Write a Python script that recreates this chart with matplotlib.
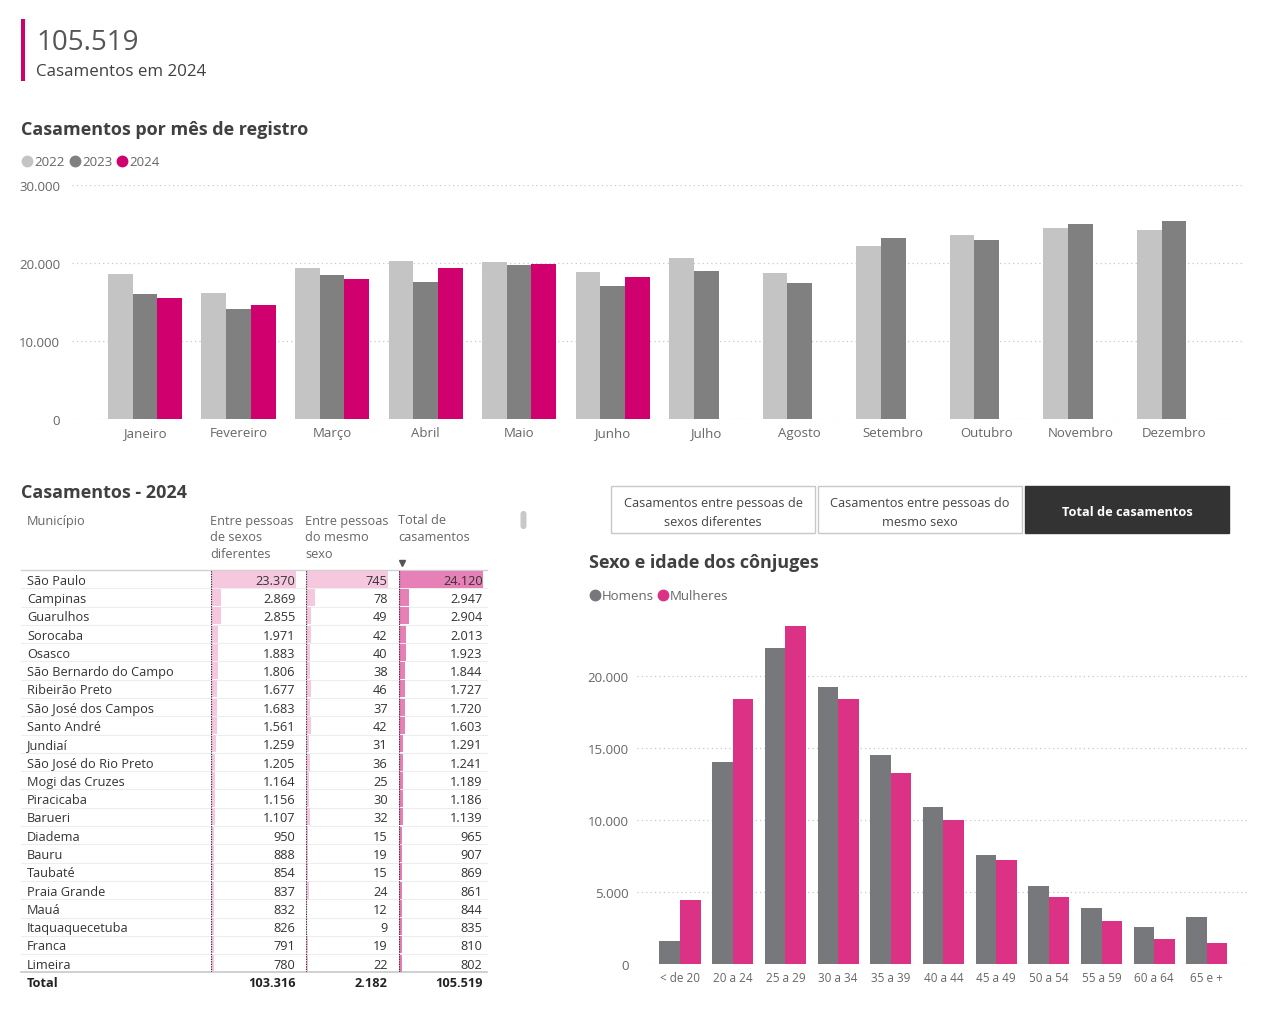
import matplotlib
matplotlib.use("Agg")
import matplotlib.pyplot as plt
from matplotlib.patches import Rectangle, FancyBboxPatch
import numpy as np

W, H = 1268, 1012
plt.rcParams['font.family'] = ['Open Sans', 'DejaVu Sans']

# ---------------- data ----------------
kpi_valor = 105519
kpi_texto = 'Casamentos em 2024'

meses = ['Janeiro', 'Fevereiro', 'Março', 'Abril', 'Maio', 'Junho',
         'Julho', 'Agosto', 'Setembro', 'Outubro', 'Novembro', 'Dezembro']
anos = ['2022', '2023', '2024']
v2022 = [18600, 16200, 19300, 20200, 20100, 18800, 20650, 18700, 22200, 23650, 24450, 24250]
v2023 = [16000, 14100, 18500, 17600, 19800, 17000, 19000, 17500, 23200, 22950, 25000, 25400]
v2024 = [15550, 14650, 17950, 19350, 19900, 18250, np.nan, np.nan, np.nan, np.nan, np.nan, np.nan]
yticks_mes = [0, 10000, 20000, 30000]

municipios = ['São Paulo', 'Campinas', 'Guarulhos', 'Sorocaba', 'Osasco',
              'São Bernardo do Campo', 'Ribeirão Preto', 'São José dos Campos',
              'Santo André', 'Jundiaí', 'São José do Rio Preto', 'Mogi das Cruzes',
              'Piracicaba', 'Barueri', 'Diadema', 'Bauru', 'Taubaté', 'Praia Grande',
              'Mauá', 'Itaquaquecetuba', 'Franca', 'Limeira']
sexos_dif = [23370, 2869, 2855, 1971, 1883, 1806, 1677, 1683, 1561, 1259, 1205, 1164,
             1156, 1107, 950, 888, 854, 837, 832, 826, 791, 780]
mesmo_sexo = [745, 78, 49, 42, 40, 38, 46, 37, 42, 31, 36, 25, 30, 32, 15, 19, 15, 24,
              12, 9, 19, 22]
total_cas = [24120, 2947, 2904, 2013, 1923, 1844, 1727, 1720, 1603, 1291, 1241, 1189,
             1186, 1139, 965, 907, 869, 861, 844, 835, 810, 802]
totais = [103316, 2182, 105519]
cab_colunas = [['Entre pessoas', 'de sexos', 'diferentes'],
               ['Entre pessoas', 'do mesmo', 'sexo'],
               ['Total de', 'casamentos']]

botoes = ['Casamentos entre pessoas de\nsexos diferentes',
          'Casamentos entre pessoas do\nmesmo sexo',
          'Total de casamentos']

faixas = ['< de 20', '20 a 24', '25 a 29', '30 a 34', '35 a 39', '40 a 44',
          '45 a 49', '50 a 54', '55 a 59', '60 a 64', '65 e +']
homens = [1620, 13990, 21970, 19260, 14520, 10870, 7540, 5430, 3860, 2570, 3260]
mulheres = [4440, 18380, 23490, 18430, 13250, 10030, 7210, 4650, 2980, 1730, 1460]
yticks_idade = [0, 5000, 10000, 15000, 20000]

# ---------------- style ----------------
C22, C23, C24 = '#C4C4C4', '#808080', '#D0006F'
C_HOM, C_MUL = '#77787B', '#DB3285'
ROSA_CLARO, ROSA_ESC = '#F5C8E0', '#E680B6'
TXT, TXT2 = '#404040', '#666666'


def fmt(v):
    return f'{int(v):,}'.replace(',', '.')


def rect(l, t, r, b):
    return [l / W, 1 - b / H, (r - l) / W, (b - t) / H]


fig = plt.figure(figsize=(W / 100, H / 100), dpi=100)
fig.patch.set_facecolor('white')

bg = fig.add_axes([0, 0, 1, 1])
bg.set_xlim(0, W)
bg.set_ylim(H, 0)
bg.axis('off')

# KPI card
bg.add_patch(Rectangle((21, 20), 3.5, 62, color=C24, lw=0))
bg.text(36, 43, fmt(kpi_valor), fontsize=20, color='#555555', va='center', ha='left')
bg.text(36, 72, kpi_texto, fontsize=12.2, color=TXT, va='center', ha='left')

# ---------------- month chart ----------------
bg.text(21, 130, 'Casamentos por mês de registro', fontsize=13, fontweight='bold',
        color=TXT, va='center')
leg_x = [27, 75, 122]
for lx, ano, c in zip(leg_x, anos, [C22, C23, C24]):
    bg.plot(lx, 162, 'o', ms=7.5, color=c)
    bg.text(lx + 7, 162, ano, fontsize=9.5, color=TXT2, va='center')

ax1 = fig.add_axes(rect(72, 186, 1245, 420))
ax1.set_facecolor('none')
x = np.arange(len(meses))
w = 0.264
ax1.bar(x - w, v2022, w, color=C22, zorder=3)
ax1.bar(x, v2023, w, color=C23, zorder=3)
ax1.bar(x + w, v2024, w, color=C24, zorder=3)
ax1.set_xlim(-0.78, 11.76)
ax1.set_ylim(0, 30000)
ax1.set_yticks(yticks_mes)
ax1.set_yticklabels([fmt(v) for v in yticks_mes])
ax1.set_xticks(x)
ax1.set_xticklabels(meses)
ax1.tick_params(length=0, labelsize=9.5, labelcolor=TXT2)
ax1.tick_params(axis='y', pad=8.5)
ax1.tick_params(axis='x', pad=5)
ax1.yaxis.grid(True, linestyle=(0, (1, 2.5)), color='#C8C8C8', lw=0.9)
for s in ax1.spines.values():
    s.set_visible(False)

# ---------------- table ----------------
bg.text(21, 493, 'Casamentos - 2024', fontsize=13, fontweight='bold', color=TXT, va='center')
bg.text(27, 521, 'Município', fontsize=9.2, color=TXT2, va='center')
col_l = [211, 306, 399]
col_r = [296, 388, 483]
for cl, linhas in zip([210, 305, 398], cab_colunas):
    for k, ln in enumerate(linhas):
        bg.text(cl, 521 + k * 16.5, ln, fontsize=9.2, color=TXT2, va='center')
bg.plot(402, 564, marker='v', ms=4.5, color='#555555')
bg.add_patch(FancyBboxPatch((520.5, 512), 6, 18, boxstyle='round,pad=0,rounding_size=3',
                            color='#C8C8C8', lw=0))

n = len(municipios)
top, pitch = 571, 18.29
bottom = top + n * pitch
bg.plot([21, 487], [top, top], color='#D0D0D0', lw=1)
for k in range(1, n):
    bg.plot([21, 487], [top + k * pitch] * 2, color='#EDEDED', lw=0.8)
bg.plot([21, 487], [bottom, bottom], color='#C8C8C8', lw=1.2)

for vals, l, r, c in zip([sexos_dif, mesmo_sexo, total_cas], col_l, col_r,
                         [ROSA_CLARO, ROSA_CLARO, ROSA_ESC]):
    axc = fig.add_axes(rect(l, top, r, bottom))
    axc.set_facecolor('none')
    axc.barh(np.arange(n), vals, height=0.93, color=c, lw=0)
    axc.set_xlim(0, max(vals))
    axc.set_ylim(n - 0.5, -0.5)
    axc.axvline(0, color='#333333', lw=0.9, linestyle=(0, (1, 1)), zorder=5)
    axc.axis('off')

# text layer above the data bars
fg = fig.add_axes([0, 0, 1, 1])
fg.set_xlim(0, W)
fg.set_ylim(H, 0)
fg.axis('off')
fg.patch.set_alpha(0)

for i, nome in enumerate(municipios):
    yc = top + (i + 0.5) * pitch + 1
    fg.text(27, yc, nome, fontsize=9.2, color='#333333', va='center')
    for vals, r in zip([sexos_dif, mesmo_sexo, total_cas], col_r):
        fg.text(r - 0.5, yc, fmt(vals[i]), fontsize=9.2, color='#333333',
                va='center', ha='right')
yt = bottom + 10.5
fg.text(27, yt, 'Total', fontsize=9.2, fontweight='bold', color='#222222', va='center')
for v, r in zip(totais, col_r):
    fg.text(r - 0.5, yt, fmt(v), fontsize=9.2, fontweight='bold', color='#222222',
            va='center', ha='right')

# ---------------- buttons ----------------
btn_x = [(611, 815), (818, 1022), (1025, 1229)]
for (l, r), txt, k in zip(btn_x, botoes, range(3)):
    ativo = k == 2
    fg.add_patch(Rectangle((l, 487), r - l, 47, facecolor='#333333' if ativo else 'white',
                           edgecolor='#333333' if ativo else '#C8C8C8', lw=1))
    fg.text((l + r) / 2, 513, txt, fontsize=9.2, ha='center', va='center',
            color='white' if ativo else '#444444', fontweight='bold' if ativo else 'normal',
            linespacing=1.55)

# ---------------- age chart ----------------
fg.text(589, 563, 'Sexo e idade dos cônjuges', fontsize=13, fontweight='bold',
        color=TXT, va='center')
for lx, lab, c in zip([595, 663], ['Homens', 'Mulheres'], [C_HOM, C_MUL]):
    fg.plot(lx, 596, 'o', ms=7.5, color=c)
    fg.text(lx + 7, 596, lab, fontsize=9.5, color=TXT2, va='center')

ax2 = fig.add_axes(rect(637, 615, 1248, 965))
ax2.set_facecolor('none')
xi = np.arange(len(faixas))
w2 = 0.39
ax2.bar(xi - w2 / 2, homens, w2, color=C_HOM, zorder=3)
ax2.bar(xi + w2 / 2, mulheres, w2, color=C_MUL, zorder=3)
ax2.set_xlim(-0.816, 10.78)
ax2.set_ylim(0, 24300)
ax2.set_yticks(yticks_idade)
ax2.set_yticklabels([fmt(v) for v in yticks_idade])
ax2.set_xticks(xi)
ax2.set_xticklabels(faixas)
ax2.tick_params(length=0, labelcolor=TXT2)
ax2.tick_params(axis='y', pad=6, labelsize=9.5)
ax2.tick_params(axis='x', pad=5, labelsize=8.5)
ax2.yaxis.grid(True, linestyle=(0, (1, 2.5)), color='#C8C8C8', lw=0.9)
for s in ax2.spines.values():
    s.set_visible(False)

fig.savefig('out.png', dpi=100, facecolor='white')
